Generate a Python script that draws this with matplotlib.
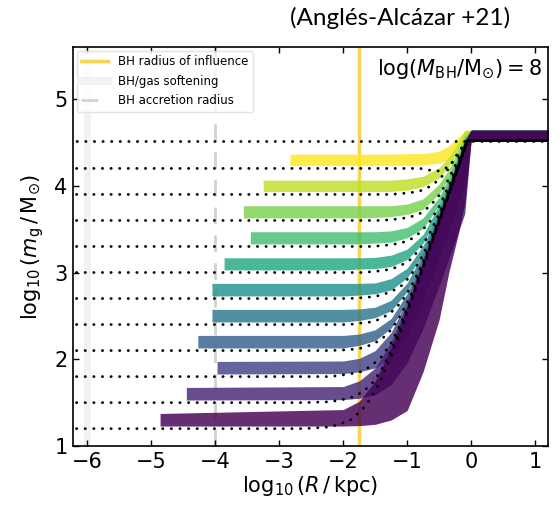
import numpy as np
import matplotlib
matplotlib.use('Agg')
import matplotlib.pyplot as plt
from matplotlib.lines import Line2D

# resolution floor of each profile, log10(m_g / Msun)
levels = [1.2, 1.5, 1.8, 2.1, 2.4, 2.7, 3.0, 3.3, 3.6, 3.9, 4.2]
top_level = 4.52

# innermost radius reached by each shaded profile, log10(R / kpc)
band_start = [-4.86, -4.45, -3.97, -4.27, -4.05, -4.05, -3.86, -3.45, -3.56, -3.25, -2.83]

# radii where the profiles turn up (shared by all bands after the start point)
rise_x = [-2.0, -1.75, -1.5, -1.25, -1.0, -0.75, -0.5, -0.35, -0.2, -0.1, 0.0, 1.3]

# upper / lower edge of each band: [at start, then at rise_x]
band_hi = [
    [1.375, 1.42, 1.515, 1.75, 2.13, 2.61, 3.13, 3.66, 3.98, 4.30, 4.51, 4.64, 4.64],
    [1.675, 1.685, 1.75, 1.90, 2.20, 2.64, 3.135, 3.66, 3.98, 4.30, 4.51, 4.64, 4.64],
    [1.975, 1.98, 2.01, 2.10, 2.31, 2.68, 3.15, 3.67, 3.98, 4.30, 4.51, 4.64, 4.64],
    [2.275, 2.275, 2.29, 2.34, 2.47, 2.76, 3.18, 3.68, 3.99, 4.30, 4.51, 4.64, 4.64],
    [2.575, 2.575, 2.58, 2.60, 2.68, 2.88, 3.23, 3.69, 4.00, 4.31, 4.51, 4.64, 4.64],
    [2.875, 2.875, 2.875, 2.88, 2.93, 3.05, 3.31, 3.725, 4.01, 4.31, 4.52, 4.64, 4.64],
    [3.17, 3.17, 3.17, 3.175, 3.20, 3.27, 3.44, 3.78, 4.04, 4.33, 4.53, 4.64, 4.64],
    [3.47, 3.47, 3.47, 3.47, 3.48, 3.52, 3.63, 3.87, 4.10, 4.36, 4.55, 4.64, 4.64],
    [3.77, 3.77, 3.77, 3.77, 3.77, 3.79, 3.85, 4.02, 4.19, 4.41, 4.58, 4.64, 4.64],
    [4.065, 4.065, 4.065, 4.065, 4.065, 4.08, 4.11, 4.21, 4.33, 4.50, 4.64, 4.64, 4.64],
    [4.365, 4.365, 4.365, 4.365, 4.365, 4.37, 4.37, 4.40, 4.46, 4.56, 4.63, 4.64, 4.64],
]
band_lo = [
    [1.23, 1.23, 1.235, 1.25, 1.30, 1.41, 1.86, 2.46, 3.00, 3.45, 3.80, 4.53, 4.53],
    [1.53, 1.535, 1.55, 1.59, 1.71, 1.96, 2.36, 2.85, 3.16, 3.47, 3.68, 4.53, 4.53],
    [1.83, 1.835, 1.855, 1.90, 2.01, 2.275, 2.68, 3.17, 3.48, 3.79, 4.00, 4.53, 4.53],
    [2.13, 2.13, 2.16, 2.215, 2.36, 2.66, 3.09, 3.59, 3.91, 4.22, 4.43, 4.53, 4.53],
    [2.43, 2.43, 2.447, 2.48, 2.56, 2.78, 3.14, 3.61, 3.92, 4.23, 4.44, 4.53, 4.53],
    [2.73, 2.73, 2.74, 2.755, 2.80, 2.94, 3.21, 3.64, 3.93, 4.23, 4.44, 4.53, 4.53],
    [3.03, 3.03, 3.04, 3.045, 3.07, 3.15, 3.34, 3.69, 3.955, 4.25, 4.45, 4.53, 4.53],
    [3.33, 3.33, 3.33, 3.34, 3.35, 3.40, 3.51, 3.78, 4.00, 4.27, 4.47, 4.53, 4.53],
    [3.63, 3.63, 3.63, 3.635, 3.645, 3.67, 3.73, 3.91, 4.09, 4.32, 4.50, 4.53, 4.53],
    [3.935, 3.935, 3.935, 3.935, 3.935, 3.95, 3.99, 4.09, 4.22, 4.40, 4.53, 4.53, 4.53],
    [4.235, 4.235, 4.235, 4.235, 4.235, 4.235, 4.24, 4.26, 4.30, 4.42, 4.52, 4.53, 4.53],
]

# dotted model curves
dot_x = [-6.3, -2.6, -2.2, -1.9, -1.7, -1.55, -1.4, -1.25, -1.1, -0.95, -0.8, -0.65, -0.5, -0.35, -0.2, -0.06, 1.3]
dot_y = [
    [1.2, 1.2, 1.22, 1.29, 1.42, 1.57, 1.78, 2.04, 2.32, 2.64, 2.95, 3.26, 3.58, 3.90, 4.22, 4.52, 4.52],
    [1.5, 1.5, 1.51, 1.55, 1.62, 1.72, 1.88, 2.10, 2.36, 2.65, 2.96, 3.27, 3.58, 3.90, 4.22, 4.52, 4.52],
    [1.8, 1.8, 1.8, 1.83, 1.86, 1.93, 2.03, 2.19, 2.41, 2.68, 2.97, 3.27, 3.58, 3.90, 4.22, 4.52, 4.52],
    [2.1, 2.1, 2.1, 2.11, 2.13, 2.17, 2.23, 2.34, 2.51, 2.73, 3.00, 3.29, 3.59, 3.90, 4.22, 4.52, 4.52],
    [2.4, 2.4, 2.4, 2.4, 2.42, 2.43, 2.47, 2.54, 2.65, 2.82, 3.05, 3.31, 3.61, 3.91, 4.22, 4.52, 4.52],
    [2.7, 2.7, 2.7, 2.7, 2.71, 2.72, 2.74, 2.78, 2.84, 2.96, 3.14, 3.36, 3.63, 3.93, 4.23, 4.52, 4.52],
    [3.0, 3.0, 3.0, 3.0, 3.0, 3.01, 3.02, 3.04, 3.08, 3.15, 3.27, 3.45, 3.68, 3.95, 4.25, 4.52, 4.52],
    [3.3, 3.3, 3.3, 3.3, 3.3, 3.3, 3.31, 3.32, 3.34, 3.38, 3.46, 3.58, 3.76, 4.00, 4.27, 4.52, 4.52],
    [3.6, 3.6, 3.6, 3.6, 3.6, 3.6, 3.6, 3.61, 3.62, 3.64, 3.68, 3.76, 3.89, 4.08, 4.31, 4.52, 4.52],
    [3.9, 3.9, 3.9, 3.9, 3.9, 3.9, 3.9, 3.9, 3.91, 3.92, 3.94, 3.99, 4.07, 4.20, 4.39, 4.52, 4.52],
    [4.2, 4.2, 4.2, 4.2, 4.2, 4.2, 4.2, 4.2, 4.2, 4.2, 4.2, 4.18, 4.17, 4.22, 4.36, 4.52, 4.52],
]

r_influence = -1.75
r_soft = -6.0
r_accr = -4.0

fig = plt.figure(figsize=(5.6, 5.14), dpi=100)
ax = fig.add_axes([0.1304, 0.1323, 0.8482, 0.7763])

colors = plt.cm.viridis(np.linspace(0, 1, len(levels)))

ax.axvline(r_soft, color='#f2f2f2', lw=5, zorder=1)
ax.axvline(r_accr, color='#d2d2d2', lw=2, ls=(0, (6, 4)), zorder=1)
ax.axvline(r_influence, color='#f9d451', lw=2.5, zorder=1.5)

# highest level first so the purple bands end up on top
for i in range(len(levels) - 1, -1, -1):
    xs = [band_start[i]] + rise_x
    ax.fill_between(xs, band_lo[i], band_hi[i], color=colors[i], alpha=0.82,
                    lw=0, zorder=2)

for y in dot_y:
    ax.plot(dot_x, y, color='k', lw=2, ls=(0, (0.1, 3.0)),
            dash_capstyle='round', zorder=4)
ax.plot(dot_x, [top_level] * len(dot_x), color='k', lw=2, ls=(0, (0.1, 3.0)),
        dash_capstyle='round', zorder=4)

ax.set_xlim(-6.22, 1.2)
ax.set_ylim(1.0, 5.6)
ax.set_xticks([-6, -5, -4, -3, -2, -1, 0, 1])
ax.set_yticks([1, 2, 3, 4, 5])
ax.tick_params(direction='in', top=True, right=True, length=4, width=1,
               labelsize=15, pad=4)
for s in ax.spines.values():
    s.set_linewidth(1.2)

ax.set_xlabel(r'$\log_{10}(R\,/\,{\rm kpc})$', fontsize=15, labelpad=2)
ax.set_ylabel(r'$\log_{10}(m_{\rm g}\,/\,{\rm M}_{\odot})$', fontsize=15, labelpad=6)

ax.text(0.988, 0.975, r'$\log(M_{\rm BH}/{\rm M}_{\odot})=8$', transform=ax.transAxes,
        ha='right', va='top', fontsize=15)

handles = [
    Line2D([], [], color='#f9d451', lw=2.5),
    Line2D([], [], color='#f2f2f2', lw=6),
    Line2D([], [], color='#d2d2d2', lw=2, ls=(0, (6, 4))),
]
labels = ['BH radius of influence', 'BH/gas softening', 'BH accretion radius']
leg = ax.legend(handles, labels, loc='upper left', fontsize=8.5, borderaxespad=0.3,
                handlelength=2.3, labelspacing=0.55, frameon=True)
leg.get_frame().set_edgecolor('#dddddd')

fig.text(0.714, 0.966, '(Anglés-Alcázar +21)', ha='center', va='center',
         fontsize=17.5, family=['Lato', 'DejaVu Sans'])

fig.savefig('out.png', dpi=100)
